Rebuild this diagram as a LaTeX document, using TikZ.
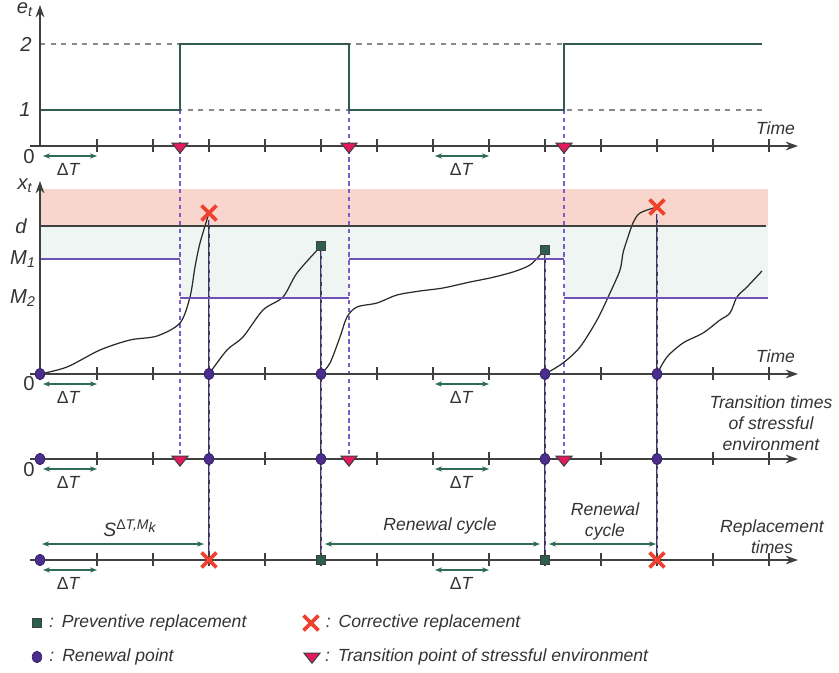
\documentclass[tikz,border=0pt]{standalone}
\usepackage{fontspec}
\setmainfont{Liberation Sans}
\usetikzlibrary{arrows.meta,shapes.geometric,shapes.misc,positioning,backgrounds}

\definecolor{axisgray}{HTML}{404040}
\definecolor{textgray}{HTML}{333333}
\definecolor{stepgreen}{HTML}{2F5B52}
\definecolor{dashgray}{HTML}{8A8A8A}
\definecolor{deltagreen}{HTML}{2E6B58}
\definecolor{transpink}{HTML}{E5195F}
\definecolor{renewpurple}{HTML}{4A2D8C}
\definecolor{xred}{HTML}{F0402E}
\definecolor{sqgreen}{HTML}{2D5E52}
\definecolor{bandred}{HTML}{F8D6CD}
\definecolor{bandgreen}{HTML}{EEF5F2}
\definecolor{mpurple}{HTML}{6F52B8}
\definecolor{dashpurple}{HTML}{7A5CCC}
\definecolor{linegray}{HTML}{3F3A52}
\definecolor{pathgray}{HTML}{2A2A2A}

\tikzset{
    lbl/.style={font=\fontsize{10}{12}\selectfont\itshape, text=textgray, inner sep=1pt},
    axlbl/.style={font=\fontsize{11.5}{13}\selectfont\itshape, text=textgray, inner sep=1pt},
    axisline/.style={draw=axisgray, line width=0.8pt, -{Stealth[length=7pt,width=5pt]}},
    tickmark/.style={draw=axisgray, line width=0.8pt},
    deltaT/.style={draw=deltagreen, line width=0.7pt, {Stealth[length=4pt,width=3pt]}-{Stealth[length=4pt,width=3pt]}},
    renewpt/.style={ellipse, draw=renewpurple!70!black, fill=renewpurple, minimum width=0.19cm, minimum height=0.23cm, inner sep=0pt},
    transpt/.style={isosceles triangle, isosceles triangle stretches, shape border rotate=-90, draw=axisgray, fill=transpink, line width=0.6pt, minimum width=0.32cm, minimum height=0.2cm, inner sep=0pt},
    corrmark/.style={cross out, draw=xred, line width=2.2pt, minimum size=0.22cm, inner sep=0pt},
    prevmark/.style={rectangle, draw=axisgray, fill=sqgreen, minimum size=0.17cm, inner sep=0pt, line width=0.5pt},
    envdash/.style={draw=dashpurple, dash pattern=on 2.5pt off 2pt, line width=0.7pt},
    renewline/.style={draw=linegray, line width=1.4pt, postaction={draw=dashpurple!55, dash pattern=on 3pt off 2pt, line width=0.35pt}},
    levelline/.style={draw=dashgray, dashed, line width=0.7pt},
    mline/.style={draw=mpurple, line width=1pt},
    degpath/.style={draw=pathgray, line width=0.7pt},
}

\begin{document}
\begin{tikzpicture}[x=0.02cm, y=-0.02cm]
    \useasboundingbox (0,0) rectangle (839,673);

    \begin{pgfonlayer}{background}
        \fill[bandred] (40,189) rectangle (768,226);
        \fill[bandgreen] (40,226) -- (768,226) -- (768,298) -- (564,298) -- (564,259) -- (349,259)
            -- (349,298) -- (180,298) -- (180,259) -- (40,259) -- cycle;
    \end{pgfonlayer}

    \draw[levelline] (40,44) -- (762,44);
    \draw[levelline] (40,110) -- (762,110);
    \draw[stepgreen, line width=1.1pt] (40,110) -- (180,110) -- (180,44) -- (349,44) -- (349,110)
        -- (564,110) -- (564,44) -- (762,44);
    \coordinate (s1) at (180,110);
    \coordinate (s2) at (349,110);
    \coordinate (s3) at (564,110);

    \draw[axisgray, line width=1pt] (40,226) -- (766,226);
    \draw[mline] (40,259) -- (180,259);
    \draw[mline] (180,298) -- (349,298);
    \draw[mline] (349,259) -- (564,259);
    \draw[mline] (564,298) -- (768,298);

    \draw[axisline] (40,146) -- (40,5);
    \draw[axisline] (40,374) -- (40,181);
    \foreach \y in {146,374,459,560} {
        \draw[axisline] (30,\y) -- (798,\y);
        \foreach \x in {97,153,...,769}
            \draw[tickmark] (\x,\y-7) -- (\x,\y+6);
    }

    \foreach \y [count=\i] in {146,374,459,560} {
        \coordinate (dTa\i) at (43,\y+10);
        \coordinate (dTb\i) at (97,\y+10);
        \coordinate (dTc\i) at (435,\y+10);
        \coordinate (dTd\i) at (489,\y+10);
        \draw[deltaT] (dTa\i) -- (dTb\i);
        \draw[deltaT] (dTc\i) -- (dTd\i);
        \node[lbl] (dTlabA\i) at (68,\y+23) {{\upshape Δ}T};
        \node[lbl] (dTlabB\i) at (461,\y+23) {{\upshape Δ}T};
    }

    \node[axlbl] (et) at (25,10) {e\textsubscript{t}};
    \node[axlbl] (lvl2) at (26,44) {2};
    \node[axlbl] (lvl1) at (25,110) {1};
    \node[axlbl] (zeroA) at (29,157) {\upshape 0};
    \node[lbl, anchor=east] (timeA) at (797,128) {Time};

    \node[axlbl] (xt) at (25,186) {x\textsubscript{t}};
    \node[axlbl] (dlab) at (21,226) {d};
    \node[axlbl] (m1lab) at (23,259) {M\textsubscript{1}};
    \node[axlbl] (m2lab) at (23,298) {M\textsubscript{2}};
    \node[axlbl] (zeroB) at (29,384) {\upshape 0};
    \node[lbl, anchor=east] (timeB) at (797,356) {Time};

    \node[axlbl] (zeroC) at (29,470) {\upshape 0};
    \node[lbl, align=center] (transtxt) at (771,423) {Transition times\\of stressful\\environment};

    \node[lbl, font=\fontsize{11}{13}\selectfont\itshape] (slab) at (130,528)
        {S\textsuperscript{\fontsize{8}{9}\selectfont{\upshape Δ}T,M\raisebox{-0.5ex}{k}}};
    \node[lbl] (cyc1) at (440,526) {Renewal cycle};
    \node[lbl, align=center] (cyc2) at (605,521) {Renewal\\cycle};
    \node[lbl, align=center] (repltxt) at (772,537) {Replacement\\times};

    \node[transpt] (tA1) at (180,147) {};
    \node[transpt] (tA2) at (349,147) {};
    \node[transpt] (tA3) at (564,147) {};

    \node[corrmark] (fail1) at (209,213) {};
    \node[prevmark] (pm1) at (321,246) {};
    \node[prevmark] (pm2) at (545,250) {};
    \node[corrmark] (fail2) at (657,207) {};

    \node[renewpt] (rB0) at (40,374) {};
    \node[renewpt] (rB1) at (209,374) {};
    \node[renewpt] (rB2) at (321,374) {};
    \node[renewpt] (rB3) at (545,374) {};
    \node[renewpt] (rB4) at (657,374) {};

    \node[renewpt] (rC0) at (40,459) {};
    \node[renewpt] (rC1) at (209,459) {};
    \node[renewpt] (rC2) at (321,459) {};
    \node[renewpt] (rC3) at (545,459) {};
    \node[renewpt] (rC4) at (657,459) {};
    \node[transpt] (tC1) at (180,460) {};
    \node[transpt] (tC2) at (349,460) {};
    \node[transpt] (tC3) at (564,460) {};

    \node[renewpt] (rD0) at (40,560) {};
    \node[corrmark] (fD1) at (209,560) {};
    \node[prevmark] (pD2) at (321,560) {};
    \node[prevmark] (pD3) at (545,560) {};
    \node[corrmark] (fD4) at (657,560) {};

    \coordinate (cA) at (42,544);
    \coordinate (cB) at (204,544);
    \coordinate (cC) at (325,544);
    \coordinate (cD) at (540,544);
    \coordinate (cE) at (549,544);
    \coordinate (cF) at (656,544);
    \draw[deltaT] (cA) -- (cB);
    \draw[deltaT] (cC) -- (cD);
    \draw[deltaT] (cE) -- (cF);

    \begin{pgfonlayer}{background}
        \draw[envdash] (s1) -- (tC1);
        \draw[envdash] (s2) -- (tC2);
        \draw[envdash] (s3) -- (tC3);
        \draw[renewline] (fail1) -- (fD1);
        \draw[renewline] (pm1) -- (pD2);
        \draw[renewline] (pm2) -- (pD3);
        \draw[renewline] (fail2) -- (fD4);

        \draw[degpath] plot[smooth] coordinates {(rB0.center) (67,367) (100,350) (130,340) (157,336)
            (180,323) (190,297) (195,267) (200,243) (fail1.center)};
        \draw[degpath] plot[smooth] coordinates {(rB1.center) (227,350) (243,337) (263,310) (283,297)
            (297,273) (pm1.center)};
        \draw[degpath] plot[smooth] coordinates {(rB2.center) (330,363) (340,337) (347,317) (357,307)
            (377,303) (397,295) (420,291) (443,288) (470,282) (490,278) (513,272) (530,265) (540,255) (pm2.center)};
        \draw[degpath] plot[smooth] coordinates {(rB3.center) (563,363) (580,347) (597,320) (610,293)
            (620,270) (623,253) (627,240) (633,223) (640,213) (fail2.center)};
        \draw[degpath] plot[smooth] coordinates {(rB4.center) (667,357) (683,343) (703,333) (720,320)
            (730,313) (737,297) (747,287) (762,271)};
    \end{pgfonlayer}

    \node[prevmark] (lgPrev) at (37,623) {};
    \node[lbl, right=3pt of lgPrev] (lgPrevTxt) {:\hspace{0.45em}Preventive replacement};
    \node[corrmark] (lgCorr) at (311,623) {};
    \node[lbl, right=3pt of lgCorr] (lgCorrTxt) {:\hspace{0.45em}Corrective replacement};
    \node[renewpt] (lgRenew) at (37,657) {};
    \node[lbl, right=3pt of lgRenew] (lgRenewTxt) {:\hspace{0.45em}Renewal point};
    \node[transpt] (lgTrans) at (312,657) {};
    \node[lbl, right=3pt of lgTrans] (lgTransTxt) {:\hspace{0.45em}Transition point of stressful environment};
\end{tikzpicture}
\end{document}
